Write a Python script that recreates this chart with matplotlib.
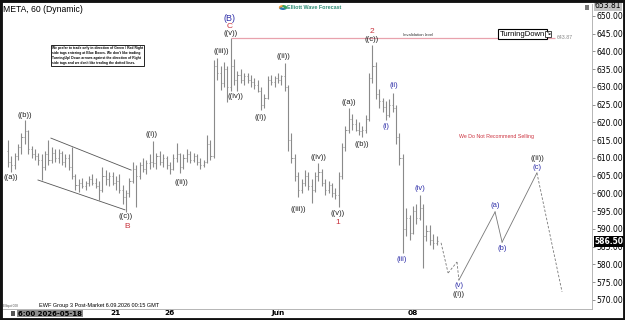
"""META 60-minute Elliott Wave chart (EWF style) redrawn with matplotlib.

x is measured in trading days, May 18 = 0 (the Memorial Day holiday is skipped),
with 8 hourly bars per day. Output: out.png (625x320).
"""

import matplotlib.pyplot as plt
from matplotlib.patches import Rectangle, Wedge

plt.rcParams["font.family"] = ["Liberation Sans", "DejaVu Sans"]

BARS_PER_DAY = 8
FIRST_BAR_DAY = -1.0  # the first bar sits on Friday May 15

# OHLC, one row per trading day
OPENS = [
    612, 609, 608, 610.5, 613, 616, 617.5, 612.5,
    611, 610.5, 609.5, 607.5, 611, 609.5, 611.5, 610,
    611.5, 609, 610, 607.5, 605, 602.5, 603, 602,
    603, 604, 603, 602, 601, 605, 604, 605,
    603, 603.5, 601, 599, 600, 603.5, 607, 605,
    608, 607, 608.5, 609, 608.5, 610.5, 609, 610,
    608, 607, 610, 611, 607.5, 610, 611, 609.5,
    610.5, 609, 608, 609, 614, 610.5, 636, 634,
    631, 635, 630, 636, 632, 633.5, 632, 633,
    632, 631.5, 630.5, 629, 625, 627, 632, 631.5,
    632.5, 632, 633, 630, 615, 610, 605, 601,
    603, 605, 602, 601, 605, 606, 603, 601,
    602.5, 600, 599.5, 605, 613, 618, 621, 619.5,
    618, 617.5, 618, 621, 632.5, 636, 628, 626,
    624.5, 622, 625, 624, 616, 610, 590, 593,
    589, 595, 593, 596, 588, 589.5, 587, 586,
]
HIGHS = [
    615, 610.5, 611.5, 614, 617, 620.7, 618, 613.5,
    612.5, 611.5, 611, 612, 615.1, 613, 612.5, 612.5,
    612, 611, 611, 613.1, 605.5, 604, 604.5, 603.5,
    605, 605.5, 604.5, 603.5, 607.5, 606.5, 606, 606,
    605, 605.5, 602.5, 601, 604.5, 608.9, 608, 609,
    610, 609.5, 611, 614.8, 611.5, 612, 611, 610.5,
    609, 611, 614.2, 611.5, 611, 612.5, 612, 611.5,
    611, 610, 609.5, 616.5, 615, 637.6, 638.2, 636,
    637, 636, 643.87, 638, 634.5, 635, 634, 634,
    633.5, 632.5, 632, 630, 628, 633, 633.5, 633,
    634, 633.5, 636.8, 630.5, 617, 611, 606, 604,
    606.6, 606, 604, 606, 608.6, 607, 604, 603.5,
    603, 601.5, 606, 614.2, 619, 624, 622.5, 621,
    620, 619, 622, 634, 641.8, 637, 629.5, 627,
    626, 626.5, 628.3, 625, 617, 611, 596, 594,
    596.5, 597, 599.6, 597, 591, 591, 588.5, 588,
]
LOWS = [
    607.5, 606.1, 606.8, 609.5, 611, 614, 611, 610,
    609.5, 608, 603.8, 606.5, 608, 608.5, 609, 608.5,
    608, 607.5, 606.5, 604, 601, 600.5, 601.5, 601,
    602, 602.5, 601.5, 598.2, 600.5, 602.5, 602, 602.5,
    601, 600, 597, 594.8, 599, 603, 596.2, 604,
    606, 605.5, 607, 607.5, 607, 608, 607.5, 607,
    605.5, 606.5, 609, 605.8, 607, 609, 608.5, 609,
    608, 607, 607.5, 608.5, 609.5, 610, 632, 629.2,
    630, 625.8, 629, 630.5, 629, 631, 630.5, 631,
    630, 629.5, 628.5, 623.5, 624, 626.5, 630.5, 630,
    631, 630.5, 629, 612, 608.5, 603.5, 599, 600,
    602, 601, 597.3, 600.5, 603.5, 602, 599.5, 600,
    599, 598.5, 596.2, 604, 612, 617, 618, 617.5,
    616.5, 615.9, 617, 620.5, 631, 626.5, 624, 623,
    620.7, 621.5, 623, 614, 608, 583.2, 588, 587,
    588.5, 591.5, 592.5, 579, 586.5, 585.5, 584.5, 585.5,
]
CLOSES = [
    609, 608, 610.5, 613, 616, 617.5, 612.5, 611,
    610.5, 609.5, 607.5, 611, 609.5, 611.5, 610, 611.5,
    609, 610, 607.5, 605, 602.5, 603, 602, 603,
    604, 603, 602, 601, 605, 604, 605, 603,
    603.5, 601, 599, 600, 603.5, 607, 605, 608,
    607, 608.5, 609, 608.5, 610.5, 609, 610, 608,
    607, 610, 611, 607.5, 610, 611, 609.5, 610.5,
    609, 608, 609, 614, 610.5, 636, 634, 631,
    635, 630, 636, 632, 633.5, 632, 633, 632,
    631.5, 630.5, 629, 625, 627, 632, 631.5, 632.5,
    632, 633, 630, 615, 610, 605, 601, 603,
    605, 602, 601, 605, 606, 603, 601, 602.5,
    600, 599.5, 605, 613, 618, 621, 619.5, 618,
    617.5, 618, 621, 632.5, 636, 628, 626, 624.5,
    622, 625, 624, 616, 610, 590, 593, 589,
    595, 593, 596, 588, 589.5, 587, 586, 586.5,
]

# projected path after the last bar (trading day, price)
PROJ_DAYS = [15.04, 15.30, 15.63, 15.70, 17.04, 17.30, 18.59, 19.52]
PROJ_PRICES = [586.1, 577.6, 580.7, 575.6, 594.8, 586.3, 605.8, 572.3]
PROJ_STYLES = ["--", "--", "--", "-", "-", "-", "--"]

# falling wedge around wave B
WEDGE_UPPER = ([0.59, 3.56], [615.6, 606.6])
WEDGE_LOWER = ([0.11, 3.33], [603.8, 595.4])

INVALIDATION = 643.87
LAST_PRICE = 586.50

DATE_TICKS = [3, 5, 9, 14]
DATE_LABELS = ["21", "26", "Jun", "08"]

BLACK, BLUE, RED = "#222222", "#2e2ea8", "#c8323c"
# wave labels: (trading day, price, text, colour, fontsize)
WAVE_LABELS = [
    (-0.89, 604.6, "((a))", BLACK, 5.5),
    (-0.37, 622.1, "((b))", BLACK, 5.5),
    (3.37, 593.4, "((c))", BLACK, 5.5),
    (3.41, 590.6, "B", RED, 6),
    (4.33, 616.5, "((i))", BLACK, 5.5),
    (5.44, 603.2, "((ii))", BLACK, 5.5),
    (6.89, 640.1, "((iii))", BLACK, 5.5),
    (7.41, 627.2, "((iv))", BLACK, 5.5),
    (7.26, 645.0, "((v))", BLACK, 5.5),
    (7.22, 647.1, "C", RED, 6),
    (7.22, 649.3, "(B)", BLUE, 6.5),
    (8.37, 621.5, "((i))", BLACK, 5.5),
    (9.19, 638.5, "((ii))", BLACK, 5.5),
    (9.74, 595.4, "((iii))", BLACK, 5.5),
    (10.48, 610.0, "((iv))", BLACK, 5.5),
    (11.22, 594.5, "((v))", BLACK, 5.5),
    (11.22, 591.7, "1", RED, 6),
    (11.63, 625.5, "((a))", BLACK, 5.5),
    (12.11, 613.9, "((b))", BLACK, 5.5),
    (12.48, 643.5, "((c))", BLACK, 5.5),
    (12.48, 645.6, "2", RED, 6),
    (13.00, 619.0, "(i)", BLUE, 5.5),
    (13.30, 630.3, "(ii)", BLUE, 5.5),
    (13.59, 581.3, "(iii)", BLUE, 5.5),
    (14.26, 601.3, "(iv)", BLUE, 5.5),
    (15.70, 574.0, "(v)", BLUE, 5.5),
    (15.70, 571.6, "((i))", BLACK, 5.5),
    (17.04, 596.5, "(a)", BLUE, 5.5),
    (17.30, 584.6, "(b)", BLUE, 5.5),
    (18.59, 607.2, "(c)", BLUE, 5.5),
    (18.59, 609.8, "((ii))", BLACK, 5.5),
]

DISCLAIMER = ("We prefer to trade only in direction of Green / Red Right\n"
              "side tags entering at Blue Boxes. We don't like trading\n"
              "TurningUp/ Down arrows against the direction of Right\n"
              "side tags and we don't like trading the dotted lines.")

W, H = 625, 320


def fx(px):
    return px / W


def fy(py):
    return 1 - py / H


fig = plt.figure(figsize=(6.25, 3.2), dpi=100)
ax = fig.add_axes((fx(3), fy(309), fx(589), 305 / H))
ax.set_xlim(-1.185, 20.63)
ax.set_ylim(567.46, 653.38)

# OHLC bars
xs = [FIRST_BAR_DAY + i / BARS_PER_DAY for i in range(len(CLOSES))]
tick = 0.04
bar_col = "#8a8a8a"
ax.vlines(xs, LOWS, HIGHS, color=bar_col, lw=0.8)
ax.hlines(OPENS, [x - tick for x in xs], xs, color=bar_col, lw=0.6)
ax.hlines(CLOSES, xs, [x + tick for x in xs], color=bar_col, lw=0.6)

# wedge
for xx, yy in (WEDGE_UPPER, WEDGE_LOWER):
    ax.plot(xx, yy, color="#555555", lw=0.6)

# projection
for k, ls in enumerate(PROJ_STYLES):
    ax.plot(PROJ_DAYS[k:k + 2], PROJ_PRICES[k:k + 2], color="#777777",
            lw=0.6, ls=ls, dashes=(3, 2) if ls == "--" else (None, None))

# invalidation level
ax.hlines(INVALIDATION, 7.26, 19.26, color="#e8a2ad", lw=0.9)
ax.text(13.63, INVALIDATION + 0.35, "Invalidation level", fontsize=3,
        color="#333333", va="bottom")
ax.text(19.33, INVALIDATION, f"{INVALIDATION:.2f}", fontsize=3.8,
        color="#888888", va="center")

for x, y, s, c, fs in WAVE_LABELS:
    ax.text(x, y, s, color=c, fontsize=fs, ha="center", va="center")

ax.text(17.1, 616.0, "We Do Not Recommend Selling", color="#cc3340",
        fontsize=3.8, ha="center", va="center")

# axes styling
ax.yaxis.tick_right()
ax.set_yticks(range(570, 651, 5))
ax.set_yticklabels([f"{v:.2f}" for v in range(570, 651, 5)],
                   family="DejaVu Sans", fontsize=5.5)
ax.tick_params(axis="y", length=2, width=0.5, pad=1, color="#666666")
ax.set_xticks(DATE_TICKS)
ax.set_xticklabels([])
ax.tick_params(axis="x", length=2, width=0.5, color="#999999")
for d, lab in zip(DATE_TICKS, DATE_LABELS):
    ax.text(d, -4 / 305, lab, transform=ax.get_xaxis_transform(),
            family="DejaVu Sans", fontsize=5.3, fontweight="bold",
            ha="center", va="center")
for side in ("left", "top"):
    ax.spines[side].set_visible(False)
for side in ("right", "bottom"):
    ax.spines[side].set_color("#aaaaaa")
    ax.spines[side].set_linewidth(0.6)

# price tags on the right axis
ax.text(1.004, 653.0, "653.81", transform=ax.get_yaxis_transform(),
        fontsize=5.5, family="DejaVu Sans", va="center", ha="left",
        bbox=dict(boxstyle="square,pad=0.1", fc="#c4c4c4", ec="none"))
ax.text(1.004, LAST_PRICE, f"{LAST_PRICE:.2f}", transform=ax.get_yaxis_transform(),
        fontsize=5.5, family="DejaVu Sans", va="center", ha="left",
        color="white", fontweight="bold",
        bbox=dict(boxstyle="square,pad=0.1", fc="black", ec="none"))

# figure texts
fig.text(fx(3), fy(10), "META, 60 (Dynamic)", fontsize=6.2, va="center")
fig.text(fx(52), fy(55.5), DISCLAIMER, fontsize=2.4, fontweight="bold",
         va="center", ha="left", linespacing=1.25,
         bbox=dict(boxstyle="square,pad=0.4", fc="white", ec="black", lw=0.6))
fig.text(fx(287), fy(7.5), "Elliott Wave Forecast", fontsize=3.9,
         fontweight="bold", color="#2e8b74", va="center")
for th1, th2, c in ((90, 210, "#f39c34"), (210, 330, "#2b77b5"), (330, 450, "#3aa35b")):
    fig.patches.append(Wedge((fx(283), fy(7.5)), 0.0055, th1, th2, width=0.0025,
                             color=c, transform=fig.transFigure))
fig.text(fx(500), fy(34), "TurningDown", fontsize=5.5, va="center",
         bbox=dict(boxstyle="square,pad=0.25", fc="white", ec="black", lw=0.8))
fig.text(fx(545), fy(34), "\u2198", fontsize=4.5, family="DejaVu Sans",
         va="center", bbox=dict(boxstyle="square,pad=0.05", fc="white",
                                ec="black", lw=0.5))
fig.text(fx(39), fy(306), "EWF Group 3 Post-Market 6.09.2026 00:15 GMT",
         fontsize=4, va="center")
fig.text(fx(3), fy(306), "Elliqot 008", fontsize=2.3, color="#555555",
         va="center")
fig.text(fx(18), fy(313.5), "6:00 2026-05-18", fontsize=5, family="DejaVu Sans",
         fontweight="bold", va="center",
         bbox=dict(boxstyle="square,pad=0.12", fc="#8c8c8c", ec="none"))
fig.patches.append(Rectangle((fx(11), fy(316)), fx(4), 5 / H, fc="#555555",
                             transform=fig.transFigure))
fig.patches.append(Rectangle((fx(585), fy(10)), fx(4), 5 / H, fc="#777777",
                             transform=fig.transFigure))

# dark frame around the picture
fig.patches.append(Rectangle((0, 0), 1, 1, fill=False, ec="#111111", lw=3.5,
                             transform=fig.transFigure))

fig.savefig("out.png", dpi=100)
